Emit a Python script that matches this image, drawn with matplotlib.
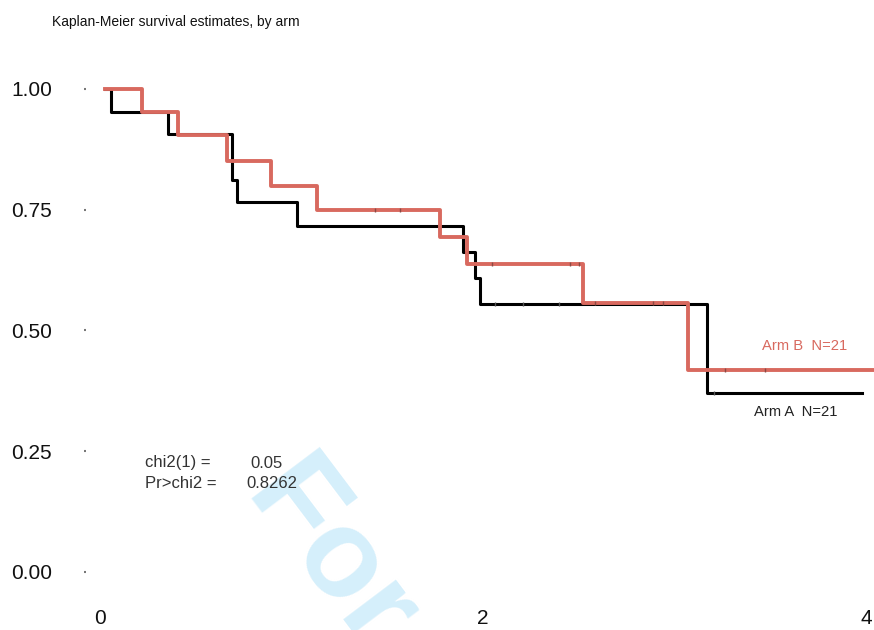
import matplotlib
matplotlib.use("Agg")
import matplotlib.pyplot as plt

# Kaplan-Meier step data (time, survival after step)
arm_a_time = [0.026, 0.057, 0.355, 0.689, 0.715, 1.029, 1.896, 1.958, 1.984, 3.170, 3.979]
arm_a_surv = [1.0, 0.952, 0.907, 0.812, 0.766, 0.716, 0.663, 0.609, 0.555, 0.371, 0.371]
arm_b_time = [0.026, 0.219, 0.407, 0.663, 0.893, 1.133, 1.775, 1.916, 2.522, 3.070, 4.05]
arm_b_surv = [1.0, 0.952, 0.905, 0.851, 0.799, 0.749, 0.694, 0.638, 0.557, 0.418, 0.418]

# censoring marks
cens_a_time = [2.063, 2.209, 2.397, 3.206]
cens_a_surv = [0.555, 0.555, 0.555, 0.371]
cens_b_time = [1.436, 1.567, 2.047, 2.454, 2.501, 2.585, 2.888, 2.940, 3.264, 3.473]
cens_b_surv = [0.749, 0.749, 0.638, 0.638, 0.638, 0.557, 0.557, 0.557, 0.418, 0.418]

x_ticks = [0, 2, 4]
y_ticks = [0.0, 0.25, 0.5, 0.75, 1.0]
y_labels = ["0.00", "0.25", "0.50", "0.75", "1.00"]

red = "#d8695f"
W, H = 874, 630
font = "Liberation Sans"

fig = plt.figure(figsize=(W / 100, H / 100), dpi=100)
ax = fig.add_axes([86 / W, 1 - 590 / H, (874 - 86) / W, (590 - 60) / H])

ax.step(arm_a_time, arm_a_surv, where="post", color="black", lw=2.2, zorder=3)
ax.step(arm_b_time, arm_b_surv, where="post", color=red, lw=2.8, zorder=4)
ax.plot(cens_a_time, cens_a_surv, ls="none", marker="|", ms=3, mew=1, color="#555555", zorder=5)
ax.plot(cens_b_time, cens_b_surv, ls="none", marker="|", ms=3, mew=1, color="#8a4a44", zorder=5)

ax.set_xlim(-0.0731, 4.0418)
ax.set_ylim(-0.0373, 1.06)
for s in ax.spines.values():
    s.set_visible(False)

ax.set_yticks(y_ticks)
ax.set_yticklabels(y_labels, family=font, fontsize=15, color="#111111")
ax.tick_params(axis="y", length=1.5, width=1.5, color="#777777", pad=23)
ax.set_xticks(x_ticks)
ax.set_xticklabels([str(t) for t in x_ticks], family=font, fontsize=15, color="#111111")
ax.tick_params(axis="x", length=0, pad=14)

fig.text(52 / W, 1 - 22 / H, "Kaplan-Meier survival estimates, by arm",
         family=font, fontsize=10, va="center", ha="left", color="#111111")

fig.text(847 / W, 1 - 346 / H, "Arm B  N=21", family=font, fontsize=10.6,
         color=red, ha="right", va="center")
fig.text(837 / W, 1 - 412 / H, "Arm A  N=21", family=font, fontsize=10.6,
         color="#222222", ha="right", va="center")

fig.text(145 / W, 1 - 463 / H, "chi2(1) =", family=font, fontsize=12,
         va="center", ha="left", color="#333333")
fig.text(250 / W, 1 - 463 / H, "0.05", family=font, fontsize=12,
         va="center", ha="left", color="#333333")
fig.text(145 / W, 1 - 483 / H, "Pr>chi2 =", family=font, fontsize=12,
         va="center", ha="left", color="#333333")
fig.text(246 / W, 1 - 483 / H, "0.8262", family=font, fontsize=12,
         va="center", ha="left", color="#333333")

# watermark
fig.text(242 / W, 1 - 497 / H, "For", family=font, fontweight="bold",
         fontsize=90, color="#d5effb", rotation=-53, rotation_mode="anchor",
         ha="left", va="baseline", zorder=0)

fig.savefig("out.png", dpi=100)
